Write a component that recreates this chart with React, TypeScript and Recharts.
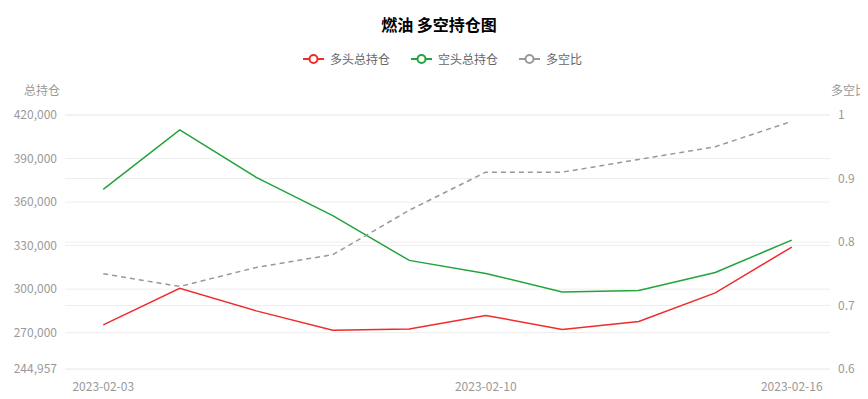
import { CartesianGrid, Label, Line, LineChart, XAxis, YAxis } from 'recharts';

const dates = [
  '2023-02-03',
  '2023-02-06',
  '2023-02-07',
  '2023-02-08',
  '2023-02-09',
  '2023-02-10',
  '2023-02-13',
  '2023-02-14',
  '2023-02-15',
  '2023-02-16',
];
const longTotal = [275400, 300500, 285000, 271700, 272600, 281900, 272200, 277700, 297400, 329000];
const shortTotal = [368800, 409700, 377000, 350600, 319800, 310800, 298100, 299100, 311500, 333800];
const longShortRatio = [0.75, 0.73, 0.76, 0.78, 0.85, 0.91, 0.91, 0.93, 0.95, 0.99];

const shownDates = ['2023-02-03', '2023-02-10', '2023-02-16'];
const leftTicks = [244957, 270000, 300000, 330000, 360000, 390000, 420000];
const rightTicks = [0.6, 0.7, 0.8, 0.9, 1];

const series = [
  { key: 'long', name: '多头总持仓', color: '#f02b2b', dashed: false },
  { key: 'short', name: '空头总持仓', color: '#22a33b', dashed: false },
  { key: 'ratio', name: '多空比', color: '#999999', dashed: true },
];

const data = dates.map((date, i) => ({
  date,
  long: longTotal[i],
  short: shortTotal[i],
  ratio: longShortRatio[i],
}));

const FONT = '"Noto Sans CJK SC", "Noto Sans", sans-serif';
const AXIS_GRAY = '#999';

const DateTick = ({ x, y, payload }: { x: number; y: number; payload: { value: string } }) => {
  if (!shownDates.includes(payload.value)) return null;
  return (
    <text x={x} y={y} dy="0.71em" textAnchor="middle" fill={AXIS_GRAY} fontSize={12} fontFamily={FONT}>
      {payload.value}
    </text>
  );
};

function LegendIcon({ color }: { color: string }) {
  return (
    <svg width={21} height={12} style={{ display: 'block' }}>
      <line x1={0} y1={6} x2={21} y2={6} stroke={color} strokeWidth={2} />
      <circle cx={10.5} cy={6} r={4} fill="#fff" stroke={color} strokeWidth={2} />
    </svg>
  );
}

export default function App() {
  return (
    <div style={{ position: 'relative', width: 868, height: 399, margin: -8, fontFamily: FONT }}>
      <div
        style={{
          position: 'absolute',
          top: 13,
          left: 0,
          width: 878,
          textAlign: 'center',
          fontSize: 16,
          fontWeight: 'bold',
          color: '#000',
          lineHeight: '22px',
        }}
      >
        燃油 多空持仓图
      </div>
      <div
        style={{
          position: 'absolute',
          top: 52,
          left: 303,
          display: 'flex',
          alignItems: 'center',
          fontSize: 12,
          color: '#666',
          lineHeight: '14px',
        }}
      >
        {series.map((s) => (
          <div key={s.key} style={{ display: 'flex', alignItems: 'center', marginRight: 21 }}>
            <LegendIcon color={s.color} />
            <span style={{ marginLeft: 6 }}>{s.name}</span>
          </div>
        ))}
      </div>
      <LineChart width={868} height={399} data={data} margin={{ top: 115, right: 0, bottom: 0, left: 0 }}>
        <CartesianGrid yAxisId="left" vertical={false} stroke="#eeeeee" />
        <CartesianGrid yAxisId="right" vertical={false} stroke="#eeeeee" />
        <XAxis
          dataKey="date"
          scale="band"
          height={30}
          interval={0}
          axisLine={false}
          tickLine={false}
          tickMargin={7}
          tick={DateTick}
        />
        <YAxis
          yAxisId="left"
          width={65}
          domain={[244957, 420000]}
          ticks={leftTicks}
          axisLine={false}
          tickLine={false}
          tick={{ fill: AXIS_GRAY, fontSize: 12, fontFamily: FONT }}
          tickFormatter={(v: number) => v.toLocaleString('en-US')}
        >
          <Label
            content={(props: any) => (
              <text
                x={props.viewBox.x + props.viewBox.width - 5}
                y={props.viewBox.y - 26}
                textAnchor="end"
                dominantBaseline="central"
                fill={AXIS_GRAY}
                fontSize={12}
                fontFamily={FONT}
              >
                总持仓
              </text>
            )}
          />
        </YAxis>
        <YAxis
          yAxisId="right"
          orientation="right"
          width={38}
          domain={[0.6, 1]}
          ticks={rightTicks}
          axisLine={false}
          tickLine={false}
          tick={{ fill: AXIS_GRAY, fontSize: 12, fontFamily: FONT }}
        >
          <Label
            content={(props: any) => (
              <text
                x={props.viewBox.x + 1}
                y={props.viewBox.y - 26}
                textAnchor="start"
                dominantBaseline="central"
                fill={AXIS_GRAY}
                fontSize={12}
                fontFamily={FONT}
              >
                多空比
              </text>
            )}
          />
        </YAxis>
        {series.map((s) => (
          <Line
            key={s.key}
            yAxisId={s.key === 'ratio' ? 'right' : 'left'}
            type="linear"
            dataKey={s.key}
            name={s.name}
            stroke={s.color}
            strokeWidth={1.5}
            strokeDasharray={s.dashed ? '5 4' : undefined}
            dot={false}
            activeDot={false}
            isAnimationActive={false}
          />
        ))}
      </LineChart>
    </div>
  );
}
